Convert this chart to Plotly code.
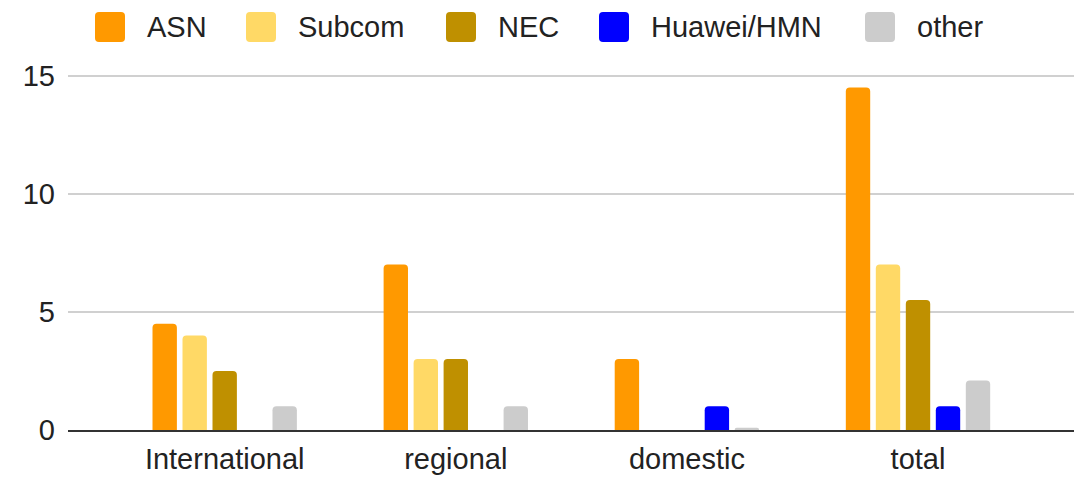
import plotly.graph_objects as go

categories = ["International", "regional", "domestic", "total"]
series_names = ["ASN", "Subcom", "NEC", "Huawei/HMN", "other"]
asn = [4.5, 7, 3, 14.5]
subcom = [4, 3, 0, 7]
nec = [2.5, 3, 0, 5.5]
huawei = [0, 0, 1, 1]
other = [1, 1, 0.1, 2.1]
colors = ["#FF9900", "#FFD966", "#BF9000", "#0000FF", "#CCCCCC"]
y_ticks = [0, 5, 10, 15]

values = [asn, subcom, nec, huawei, other]

W, H = 1089, 483
ML, MR, MT, MB = 68, 15, 69, 53
FONT = "Liberation Sans, Arial, sans-serif"

fig = go.Figure()
for name, vals, col in zip(series_names, values, colors):
    fig.add_trace(go.Bar(x=categories, y=vals, name=name, marker=dict(color=col, line=dict(width=0)),
                         showlegend=False))

# manual legend (pixel helpers -> paper coords)
pw = W - ML - MR
ph = H - MT - MB
def px_x(x):
    return (x - ML) / pw
def px_y(y):
    return (H - MB - y) / ph

legend_x = [95, 246, 446, 599, 865]
shapes = []
annotations = []
sw = 30
for name, col, lx in zip(series_names, colors, legend_x):
    x0, x1 = lx, lx + sw
    y0, y1 = 12, 42
    r = 4
    path = (f"M {px_x(x0 + r)} {px_y(y0)} L {px_x(x1 - r)} {px_y(y0)} "
            f"Q {px_x(x1)} {px_y(y0)} {px_x(x1)} {px_y(y0 + r)} "
            f"L {px_x(x1)} {px_y(y1 - r)} Q {px_x(x1)} {px_y(y1)} {px_x(x1 - r)} {px_y(y1)} "
            f"L {px_x(x0 + r)} {px_y(y1)} Q {px_x(x0)} {px_y(y1)} {px_x(x0)} {px_y(y1 - r)} "
            f"L {px_x(x0)} {px_y(y0 + r)} Q {px_x(x0)} {px_y(y0)} {px_x(x0 + r)} {px_y(y0)} Z")
    shapes.append(dict(type="path", path=path, xref="paper", yref="paper",
                       fillcolor=col, line=dict(width=0)))
    annotations.append(dict(text=name, x=px_x(x1 + 20), y=px_y(27), xref="paper", yref="paper",
                            xanchor="left", yanchor="middle", showarrow=False,
                            font=dict(family=FONT, size=29, color="#222222")))

fig.update_layout(
    width=W, height=H,
    margin=dict(l=ML, r=MR, t=MT, b=MB, pad=0, autoexpand=False),
    paper_bgcolor="white", plot_bgcolor="white",
    barmode="group", bargap=0.351, bargroupgap=0.187, barcornerradius=4,
    font=dict(family=FONT, size=29, color="#222222"),
    shapes=shapes, annotations=annotations,
    xaxis=dict(range=[-0.678, 3.675], showgrid=False, showline=True, linecolor="#333333", linewidth=2,
               ticks="", tickfont=dict(size=29, color="#222222"), ticklabelstandoff=2,
               automargin=False, fixedrange=True),
    yaxis=dict(range=[0, 15.28], tickvals=y_ticks, showgrid=True, gridcolor="#D0D0D0", gridwidth=2,
               zeroline=False, showline=False, ticks="", tickfont=dict(size=29, color="#222222"),
               ticklabelstandoff=12, automargin=False, fixedrange=True),
)

fig.write_html("out.html")
